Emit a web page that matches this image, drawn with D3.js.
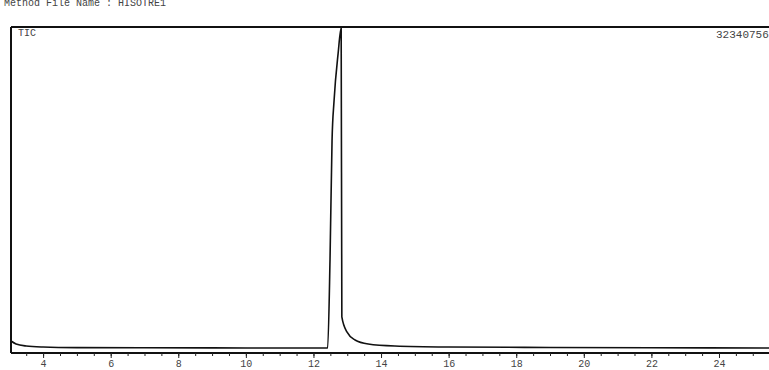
<!DOCTYPE html>
<html>
<head>
<meta charset="utf-8">
<script src="https://cdn.jsdelivr.net/npm/d3@7"></script>
<style>
  body { margin: 0; background: #fff; }
  text { font-family: "Liberation Mono", "DejaVu Sans Mono", monospace; fill: #444; }
</style>
</head>
<body>
<svg width="769" height="370"></svg>
<script>
// retention time (min) and total ion count
const times = [3.05, 3.2, 3.5, 4.0, 5.0, 7.0, 9.0, 11.0, 12.0, 12.42,
  12.49, 12.55, 12.61, 12.73, 12.82, 12.84, 12.99, 13.23, 13.62, 14.41,
  16.0, 19.0, 22.0, 25.5];
const intensity = [1100000, 800000, 600000, 500000, 440000, 420000, 410000, 400000, 400000, 400000,
  9200000, 21100000, 25100000, 29800000, 32340756, 3500000, 2000000, 1200000, 800000, 600000,
  500000, 450000, 420000, 400000];
const tickValues = [4, 6, 8, 10, 12, 14, 16, 18, 20, 22, 24];
const headerText = "Method File Name : HISOTRE1";
const traceLabel = "TIC";
const maxLabel = "32340756";

const svg = d3.select("svg");
const plotLeft = 11, plotRight = 769, plotTop = 28, plotBottom = 352;

const x = d3.scaleLinear().domain([3.05, 25.48]).range([plotLeft, plotRight]);
const y = d3.scaleLinear().domain([0, 32340756]).range([plotBottom, plotTop]);

// header, cut off at the top of the page
svg.append("text").attr("x", 4).attr("y", 6)
  .attr("font-size", 10).attr("fill", "#777").text(headerText);

// frame: top and left
svg.append("line").attr("x1", plotLeft).attr("x2", plotRight).attr("y1", plotTop - 1).attr("y2", plotTop - 1)
  .attr("stroke", "#111").attr("stroke-width", 2);
svg.append("line").attr("x1", plotLeft).attr("x2", plotLeft).attr("y1", plotTop - 1).attr("y2", plotBottom + 1)
  .attr("stroke", "#111").attr("stroke-width", 2);

// x axis with minor ticks
const axis = svg.append("g").attr("transform", `translate(0,${plotBottom + 1})`);
axis.call(d3.axisBottom(x).tickValues(d3.range(3.5, 25.5, 0.5)).tickSize(3).tickFormat(""));
axis.selectAll(".tick line").attr("stroke", "#222");
const major = svg.append("g").attr("transform", `translate(0,${plotBottom + 1})`);
major.call(d3.axisBottom(x).tickValues(tickValues).tickSize(5).tickPadding(2).tickFormat(d3.format("d")));
major.select(".domain").remove();
major.selectAll(".tick line").attr("stroke", "#222");
major.selectAll(".tick text").attr("font-size", 10).attr("fill", "#444");
axis.select(".domain").attr("stroke", "#111").attr("stroke-width", 2)
  .attr("d", `M${plotLeft},0H${plotRight}`);

// trace
const line = d3.line().x((d, i) => x(times[i])).y(d => y(d)).curve(d3.curveMonotoneX);
svg.append("path").datum(intensity).attr("d", line)
  .attr("fill", "none").attr("stroke", "#111").attr("stroke-width", 1.6)
  .attr("stroke-linejoin", "round");

svg.append("text").attr("x", 18).attr("y", 36).attr("font-size", 10).text(traceLabel);
svg.append("text").attr("x", 716).attr("y", 38).attr("font-size", 11).text(maxLabel);
</script>
</body>
</html>
